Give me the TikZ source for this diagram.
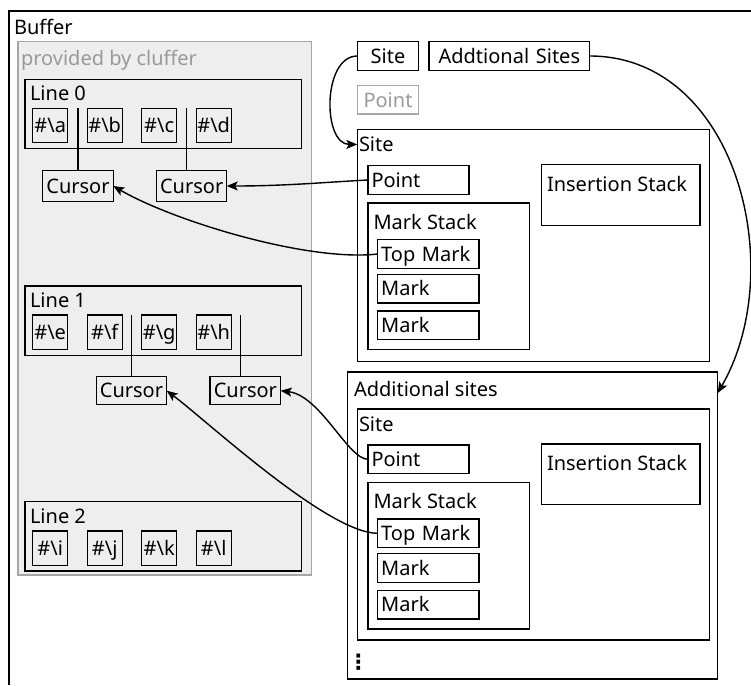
\documentclass[tikz,border=0pt]{standalone}
\usepackage{fontspec}
\setmainfont{Noto Sans}
\newfontfamily\djv{DejaVu Sans}
\usetikzlibrary{arrows.meta}
\definecolor{grayfill}{HTML}{EEEEEE}
\definecolor{graydraw}{HTML}{A6A6A6}
\definecolor{graytext}{HTML}{999999}
\begin{document}
\begin{tikzpicture}[x=1pt,y=-1pt,
  font=\fontsize{20}{24}\selectfont,
  every node/.style={inner sep=0pt, outer sep=0pt},
  cont/.style={draw, line width=1.2pt, anchor=north west, rectangle},
  leafl/.style={draw, line width=1.2pt, anchor=north west, inner xsep=3.5pt, inner ysep=0pt, text height=14.3pt, text depth=0pt, align=left},
  leafc/.style={draw, line width=1.2pt, anchor=north west, inner xsep=1pt, inner ysep=0pt, text height=14.3pt, text depth=0pt, align=center},
  lbl/.style={anchor=base west},
  conn/.style={line width=1.4pt, -{Stealth[length=11pt,width=9pt,inset=2.5pt]}},
  curline/.style={line width=1.3pt},
]
\useasboundingbox (0,0) rectangle (751,685);
% outer buffer frame (runs past the picture at right and bottom)
\draw[line width=1.4pt] (751,11) -- (9,11) -- (9,685);
\node[lbl] (bufL) at (14,35) {Buffer};

% provided by cluffer
\node[cont, draw=graydraw, fill=grayfill, minimum width=293.7pt, minimum height=533.3pt] (gray) at (18,41.7) {};
\node[lbl, text=graytext] (grayL) at (21,65) {provided by cluffer};

% Line 0
\node[cont, minimum width=276.7pt, minimum height=69pt] (line0) at (25,79.3) {};
\node[lbl] (line0L) at (30,100.7) {Line 0};
\node[leafc, minimum width=35pt, minimum height=34.4pt, text width=33pt] (ca) at (32.7,108.3) {\#\textbackslash a};
\node[leafc, minimum width=35pt, minimum height=34.4pt, text width=33pt] (cb) at (87.2,108.3) {\#\textbackslash b};
\node[leafc, minimum width=35pt, minimum height=34.4pt, text width=33pt] (cc) at (141.7,108.3) {\#\textbackslash c};
\node[leafc, minimum width=35pt, minimum height=34.4pt, text width=33pt] (cd) at (196.2,108.3) {\#\textbackslash d};
\node[leafc, minimum width=70.6pt, minimum height=30.6pt, text width=68.6pt] (c0a) at (42.7,170.7) {Cursor};
\node[leafc, minimum width=70pt, minimum height=30.6pt, text width=68pt] (c0b) at (156.7,170.7) {Cursor};
\coordinate (k0a) at (78,108.3);
\coordinate (k0b) at (186.7,108.3);
\draw[curline] (k0a) -- (k0a |- c0a.north);
\draw[curline] (k0b) -- (k0b |- c0b.north);

% Line 1
\node[cont, minimum width=276.7pt, minimum height=69.3pt] (line1) at (25,286) {};
\node[lbl] (line1L) at (30,307.3) {Line 1};
\node[leafc, minimum width=35pt, minimum height=34.4pt, text width=33pt] (ce) at (32.7,315) {\#\textbackslash e};
\node[leafc, minimum width=35pt, minimum height=34.4pt, text width=33pt] (cf) at (87.2,315) {\#\textbackslash f};
\node[leafc, minimum width=35pt, minimum height=34.4pt, text width=33pt] (cg) at (141.7,315) {\#\textbackslash g};
\node[leafc, minimum width=35pt, minimum height=34.4pt, text width=33pt] (ch) at (196.2,315) {\#\textbackslash h};
\node[leafc, minimum width=70.4pt, minimum height=28pt, text width=68.4pt] (c1a) at (96.3,376.7) {Cursor};
\node[leafc, minimum width=70.7pt, minimum height=28pt, text width=68.7pt] (c1b) at (210,376.7) {Cursor};
\coordinate (k1a) at (131.7,315);
\coordinate (k1b) at (240.7,315);
\draw[curline] (k1a) -- (k1a |- c1a.north);
\draw[curline] (k1b) -- (k1b |- c1b.north);

% Line 2
\node[cont, minimum width=276.7pt, minimum height=69.3pt] (line2) at (25,501.7) {};
\node[lbl] (line2L) at (30,523.3) {Line 2};
\node[leafc, minimum width=35pt, minimum height=34.4pt, text width=33pt] (ci) at (32.7,531) {\#\textbackslash i};
\node[leafc, minimum width=35pt, minimum height=34.4pt, text width=33pt] (cj) at (87.2,531) {\#\textbackslash j};
\node[leafc, minimum width=35pt, minimum height=34.4pt, text width=33pt] (ck) at (141.7,531) {\#\textbackslash k};
\node[leafc, minimum width=35pt, minimum height=34.4pt, text width=33pt] (cl) at (196.2,531) {\#\textbackslash l};

% top row
\node[leafc, minimum width=61.4pt, minimum height=28.6pt, text width=59.4pt] (siteT) at (357.3,41.7) {Site};
\node[leafc, minimum width=160.7pt, minimum height=28.6pt, text width=158.7pt] (addT) at (429,41.7) {Addtional Sites};
\node[leafc, draw=graydraw, text=graytext, minimum width=61.4pt, minimum height=28.3pt, text width=59.4pt] (pointG) at (357.3,85.7) {Point};

% Site
\node[cont, minimum width=352pt, minimum height=232pt] (site1) at (357.3,129.7) {};
\node[lbl] (site1L) at (359,151.7) {Site};
\node[leafl, minimum width=101pt, minimum height=28.6pt, text width=94pt] (point1) at (368,165.7) {Point};
\node[cont, minimum width=158.7pt, minimum height=60.6pt] (ins1) at (541.3,164.7) {};
\node[lbl] (ins1L) at (547,191) {Insertion Stack};
\node[cont, minimum width=161.7pt, minimum height=146.7pt] (ms1) at (368,203) {};
\node[lbl] (ms1L) at (373.5,229) {Mark Stack};
\node[leafl, minimum width=101.3pt, minimum height=28.6pt, text width=94.3pt] (tm1) at (377.7,239.7) {Top Mark};
\node[leafl, minimum width=101.3pt, minimum height=28.6pt, text width=94.3pt] (m1a) at (377.7,274.3) {Mark};
\node[leafl, minimum width=101.3pt, minimum height=28.6pt, text width=94.3pt] (m1b) at (377.7,311) {Mark};

% Additional sites
\node[cont, minimum width=370.4pt, minimum height=307pt] (addB) at (347.3,372) {};
\node[lbl] (addL) at (354,396.7) {Additional sites};
\node[cont, minimum width=352pt, minimum height=231pt] (site2) at (357.3,409) {};
\node[lbl] (site2L) at (359,431) {Site};
\node[leafl, minimum width=101pt, minimum height=28.6pt, text width=94pt] (point2) at (368,445) {Point};
\node[cont, minimum width=158.7pt, minimum height=60.6pt] (ins2) at (541.3,444) {};
\node[lbl] (ins2L) at (547,470.3) {Insertion Stack};
\node[cont, minimum width=161.7pt, minimum height=146.7pt] (ms2) at (368,482.3) {};
\node[lbl] (ms2L) at (373.5,508.3) {Mark Stack};
\node[leafl, minimum width=101.3pt, minimum height=28.6pt, text width=94.3pt] (tm2) at (377.7,519) {Top Mark};
\node[leafl, minimum width=101.3pt, minimum height=28.6pt, text width=94.3pt] (m2a) at (377.7,553.6) {Mark};
\node[leafl, minimum width=101.3pt, minimum height=28.6pt, text width=94.3pt] (m2b) at (377.7,590.3) {Mark};
\node (dots) at (358.3,662.5) {\djv\fontsize{21}{24}\selectfont\bfseries ⋮};

% connectors
\draw[conn] (siteT.west) .. controls +(-35,0) and +(-35,0) .. (site1.west |- site1L.west);
\draw[conn] (addT.east) .. controls +(146,0) and +(72,-125) .. ([yshift=-21pt]addB.north east);
\draw[conn] (point1.west) .. controls +(-40,2) and +(60,0) .. (c0b.east);
\draw[conn] (tm1.west) .. controls +(-70,8) and +(60,35) .. (c0a.east);
\draw[conn] (point2.west) .. controls +(-20,0) and +(40,5) .. (c1b.east);
\draw[conn] (tm2.west) .. controls +(-50,0) and +(40,30) .. (c1a.east);
\end{tikzpicture}
\end{document}
